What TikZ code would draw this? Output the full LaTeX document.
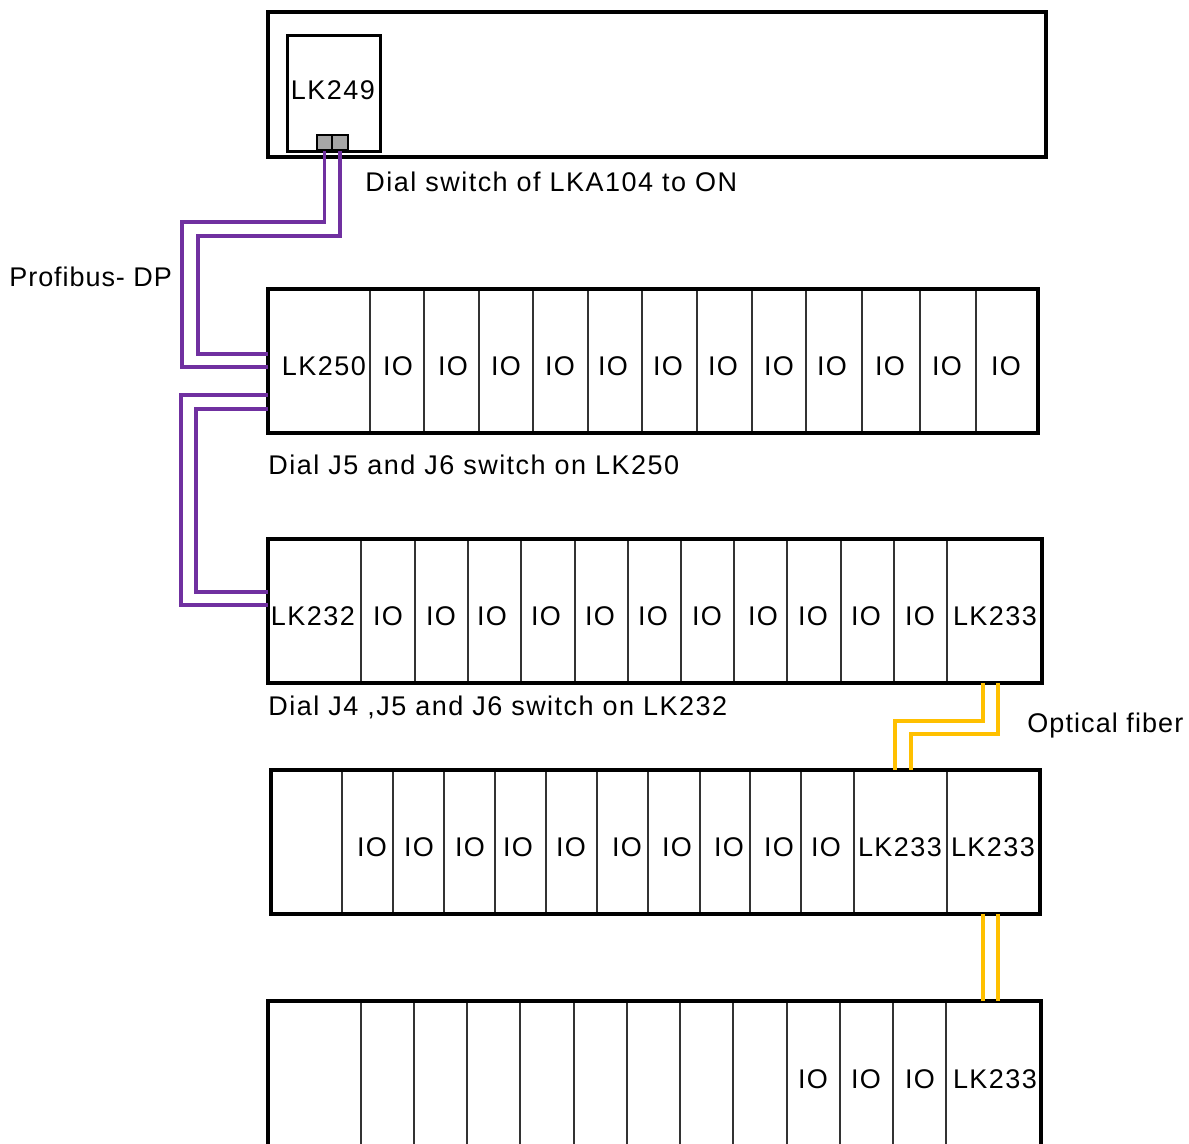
\documentclass[tikz,border=0pt]{standalone}
\usepackage{fontspec}
\setmainfont{Liberation Sans}[LetterSpace=5.5]
\usetikzlibrary{fit}
\definecolor{pur}{HTML}{7030A0}
\definecolor{org}{HTML}{FFC000}
\definecolor{congray}{HTML}{A6A6A6}
\begin{document}
\begin{tikzpicture}[x=0.5pt,y=-0.5pt,
  font=\fontsize{13.5}{16}\selectfont,
  frame/.style={draw, line width=1.9pt, inner sep=0pt},
  modbox/.style={draw, line width=1.5pt, inner sep=0pt},
  conbox/.style={draw, fill=congray, line width=1.2pt, inner sep=0pt},
  divline/.style={draw=black!80, line width=0.6pt},
  lbl/.style={inner sep=0pt, anchor=base},
  txt/.style={inner sep=0pt, anchor=base west},
  pline/.style={draw=pur, line width=1.6pt},
  oline/.style={draw=org, line width=1.7pt}]
\useasboundingbox (0,0) rectangle (1189,1144);
\clip (0,0) rectangle (1189,1144);

% ---------- top rack with LK249 ----------
\coordinate (t1) at (268,12); \coordinate (t2) at (1046,157);
\node[frame, fit=(t1)(t2)] (top) {};
\coordinate (m1) at (287,36); \coordinate (m2) at (380,152);
\node[modbox, fit=(m1)(m2)] (lk249) {};
\node[lbl] (lk249t) at (333,99.5) {LK249};
\coordinate (ca1) at (316.7,135); \coordinate (ca2) at (332,150);
\coordinate (cb1) at (332,135); \coordinate (cb2) at (348,150);
\node[conbox, fit=(ca1)(ca2)] (p1) {};
\node[conbox, fit=(cb1)(cb2)] (p2) {};
\node[txt] (note1) at (365,191.5) {Dial switch of LKA104 to ON};

% ---------- rack 2 (LK250) ----------
\foreach \x in {370,424,479,533,588,642,697,752,806,862,920,976}
  \draw[divline] (\x,289) -- (\x,433);
\coordinate (r2a) at (268,289); \coordinate (r2b) at (1038,433);
\node[frame, fit=(r2a)(r2b)] (r2) {};
\foreach \x/\t [count=\i] in {324/LK250,398/IO,453/IO,506/IO,560/IO,613/IO,668/IO,723/IO,779/IO,832/IO,890/IO,947/IO,1006/IO}
  \node[lbl] (r2s\i) at (\x,375.5) {\t};
\node[txt] (note2) at (268,474.5) {Dial J5 and J6 switch on LK250};

% ---------- rack 3 (LK232) ----------
\foreach \x in {361,415,468,521,575,628,681,734,787,841,894,947}
  \draw[divline] (\x,539) -- (\x,683);
\coordinate (r3a) at (268,539); \coordinate (r3b) at (1042,683);
\node[frame, fit=(r3a)(r3b)] (r3) {};
\foreach \x/\t [count=\i] in {313/LK232,388/IO,441/IO,492/IO,546/IO,600/IO,653/IO,707/IO,763/IO,813/IO,866/IO,920/IO,995/LK233}
  \node[lbl] (r3s\i) at (\x,625.5) {\t};
\node[txt] (note3) at (268,715.5) {Dial J4 ,J5 and J6 switch on LK232};

% ---------- rack 4 ----------
\foreach \x in {342,393,444,495,546,597,648,700,750,801,854,947}
  \draw[divline] (\x,770) -- (\x,914);
\coordinate (r4a) at (271,770); \coordinate (r4b) at (1040,914);
\node[frame, fit=(r4a)(r4b)] (r4) {};
\foreach \x/\t [count=\i] in {372/IO,419/IO,470/IO,518/IO,571/IO,627/IO,677/IO,729/IO,779/IO,826/IO,900/LK233,993/LK233}
  \node[lbl] (r4s\i) at (\x,856.5) {\t};

% ---------- rack 5 ----------
\foreach \x in {361,414,467,520,574,627,680,733,787,840,893,946}
  \draw[divline] (\x,1001) -- (\x,1150);
\coordinate (r5a) at (268,1001); \coordinate (r5b) at (1041,1160);
\node[frame, fit=(r5a)(r5b)] (r5) {};
\foreach \x/\t [count=\i] in {813/IO,866/IO,920/IO,995/LK233}
  \node[lbl] (r5s\i) at (\x,1088.5) {\t};

% ---------- Profibus-DP ----------
\node[txt, font=\fontsize{13.5}{16}\selectfont\addfontfeature{LetterSpace=3.5}] (pdp) at (9,286.5) {Profibus- DP};
\coordinate (pa1) at (182,222); \coordinate (pb1) at (268,367);
\coordinate (pa2) at (198,236); \coordinate (pb2) at (268,354);
\draw[pline] (p1.south) |- (pa1) |- (pb1);
\draw[pline] (p2.south) |- (pa2) |- (pb2);
\coordinate (qs1) at (268,395); \coordinate (qc1) at (181,605); \coordinate (qe1) at (268,605);
\coordinate (qs2) at (268,409); \coordinate (qc2) at (196,592); \coordinate (qe2) at (268,592);
\draw[pline] (qs1) -| (qc1) -- (qe1);
\draw[pline] (qs2) -| (qc2) -- (qe2);

% ---------- optical fiber ----------
\node[txt, font=\fontsize{13.5}{16}\selectfont\addfontfeature{LetterSpace=4}] (ofib) at (1027,732.5) {Optical fiber};
\coordinate (os1) at (983,683); \coordinate (oc1) at (895,721); \coordinate (oe1) at (895,770);
\coordinate (os2) at (998,683); \coordinate (oc2) at (911,734); \coordinate (oe2) at (911,770);
\draw[oline] (os1) |- (oc1) -- (oe1);
\draw[oline] (os2) |- (oc2) -- (oe2);
\coordinate (ot1) at (983,914); \coordinate (ob1) at (983,1001);
\coordinate (ot2) at (998,914); \coordinate (ob2) at (998,1001);
\draw[oline] (ot1) -- (ob1);
\draw[oline] (ot2) -- (ob2);
\end{tikzpicture}
\end{document}
